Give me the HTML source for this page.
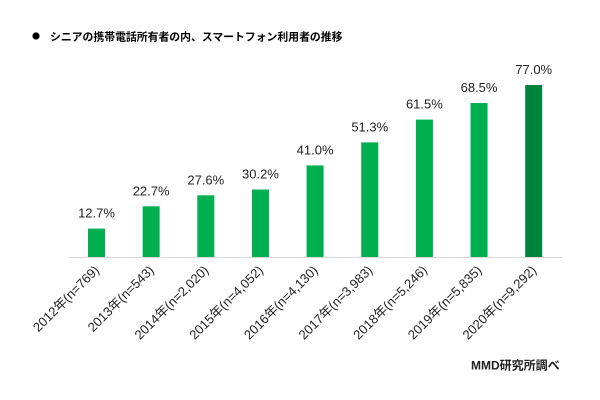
<!DOCTYPE html>
<html>
<head>
<meta charset="utf-8">
<style>
  html,body{margin:0;padding:0;background:#fff;}
  svg{display:block;}
  text{font-family:"Liberation Sans","Noto Sans CJK JP",sans-serif;}
</style>
</head>
<body>
<svg width="600" height="400" viewBox="0 0 600 400" xmlns="http://www.w3.org/2000/svg">
  <rect width="600" height="400" fill="#fff"/>
  <!-- title -->
  <circle cx="36" cy="36" r="3.6" fill="#000"/>
  <text x="50" y="40.5" font-size="10.85" font-weight="bold" fill="#000">シニアの携帯電話所有者の内、スマートフォン利用者の推移</text>

  <!-- axis -->
  <line x1="69" y1="257.5" x2="562" y2="257.5" stroke="#D9D9D9" stroke-width="1"/>

  <!-- bars -->
  <g>
    <rect x="88.0" y="228.6" width="17" height="28.4" fill="#00B050"/>
    <rect x="142.65" y="206.3" width="17" height="50.7" fill="#00B050"/>
    <rect x="197.3" y="195.3" width="17" height="61.7" fill="#00B050"/>
    <rect x="251.95" y="189.5" width="17" height="67.5" fill="#00B050"/>
    <rect x="306.6" y="165.4" width="17" height="91.6" fill="#00B050"/>
    <rect x="361.25" y="142.4" width="17" height="114.6" fill="#00B050"/>
    <rect x="415.9" y="119.6" width="17" height="137.4" fill="#00B050"/>
    <rect x="470.55" y="103.0" width="17" height="154.0" fill="#00B050"/>
    <rect x="525.2" y="85.0" width="17" height="172.0" fill="#00843C"/>
  </g>

  <!-- value labels -->
  <g font-size="13" fill="#222" text-anchor="middle">
    <text x="96.5" y="217.6">12.7%</text>
    <text x="151.15" y="195.3">22.7%</text>
    <text x="205.8" y="184.3">27.6%</text>
    <text x="260.45" y="178.5">30.2%</text>
    <text x="315.1" y="154.4">41.0%</text>
    <text x="369.75" y="131.4">51.3%</text>
    <text x="424.4" y="108.6">61.5%</text>
    <text x="479.05" y="92.0">68.5%</text>
    <text x="533.7" y="74.0">77.0%</text>
  </g>

  <!-- category labels -->
  <g font-size="13" fill="#222" text-anchor="end">
    <text transform="translate(100,271) rotate(-45)">2012年(n=769)</text>
    <text transform="translate(154.65,271) rotate(-45)">2013年(n=543)</text>
    <text transform="translate(209.3,271) rotate(-45)">2014年(n=2,020)</text>
    <text transform="translate(263.95,271) rotate(-45)">2015年(n=4,052)</text>
    <text transform="translate(318.6,271) rotate(-45)">2016年(n=4,130)</text>
    <text transform="translate(373.25,271) rotate(-45)">2017年(n=3,983)</text>
    <text transform="translate(427.9,271) rotate(-45)">2018年(n=5,246)</text>
    <text transform="translate(482.55,271) rotate(-45)">2019年(n=5,835)</text>
    <text transform="translate(537.2,271) rotate(-45)">2020年(n=9,292)</text>
  </g>

  <!-- source -->
  <text x="471" y="369.5" font-size="12" font-weight="bold" fill="#222">MMD研究所調べ</text>
</svg>
</body>
</html>
